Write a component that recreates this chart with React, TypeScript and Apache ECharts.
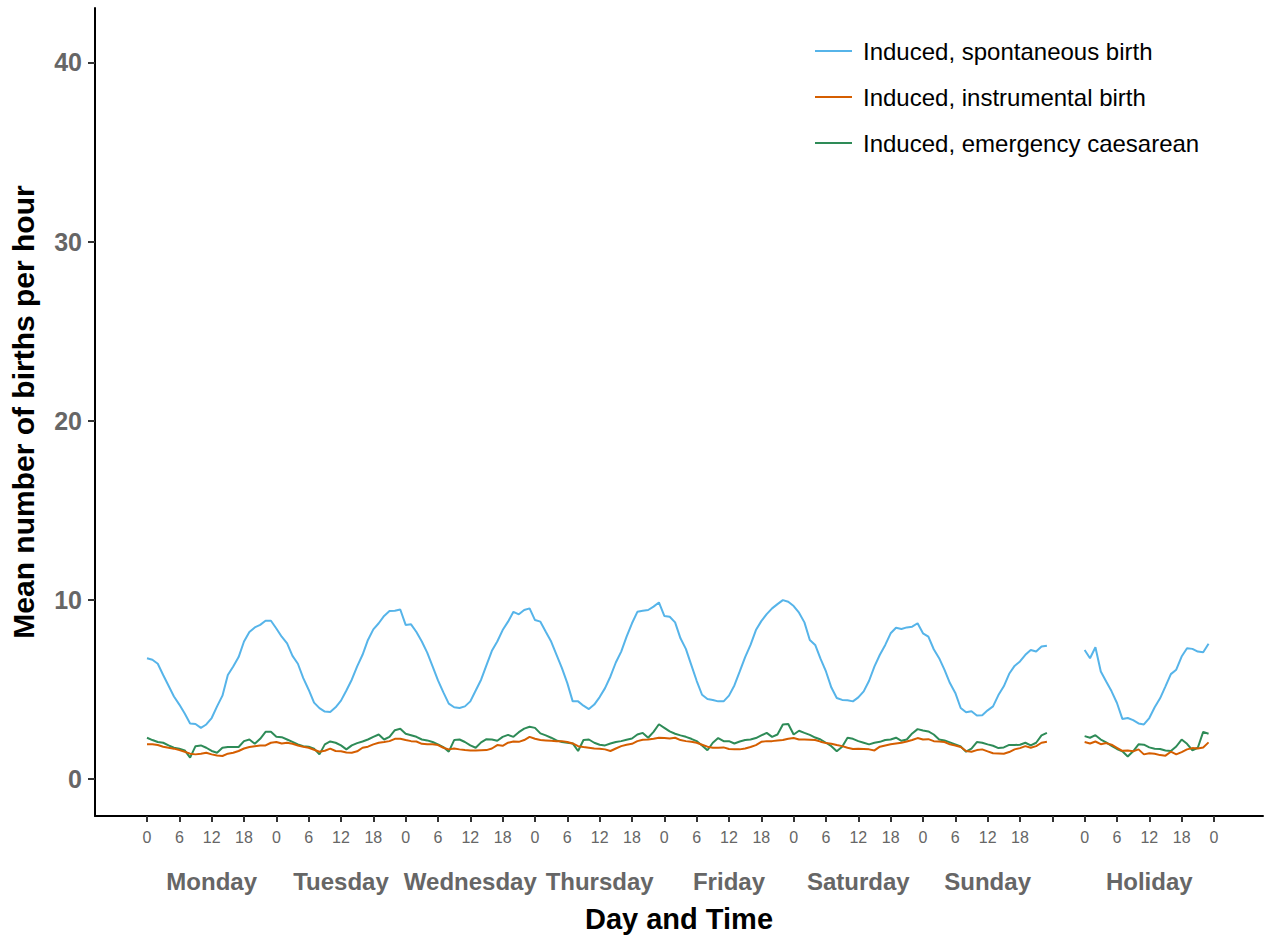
import React, { useEffect, useRef } from "react";
import * as echarts from "echarts";

const SERIES_NAMES = [
  "Induced, spontaneous birth",
  "Induced, instrumental birth",
  "Induced, emergency caesarean",
];
const COLORS = ["#56B4E9", "#D55E00", "#2E8B57"];
const DAY_NAMES = ["Monday", "Tuesday", "Wednesday", "Thursday", "Friday", "Saturday", "Sunday", "Holiday"];
const DAY_CENTERS = [12, 36, 60, 84, 108, 132, 156, 186];
const HOLIDAY_START = 174;
const X_TICKS = [0, 6, 12, 18, 24, 30, 36, 42, 48, 54, 60, 66, 72, 78, 84, 90, 96, 102, 108, 114, 120, 126, 132, 138, 144, 150, 156, 162, 168, 174, 180, 186, 192, 198];
const Y_TICKS = [0, 10, 20, 30, 40];

// Mean births per hour, Monday 0h .. Sunday 23h (168 values)
const spontaneousWeek = [
  6.74, 6.65, 6.43, 5.8, 5.2, 4.6, 4.15, 3.65, 3.1, 3.07, 2.85, 3.04, 3.4, 4.05, 4.65, 5.8, 6.28, 6.8, 7.67, 8.2, 8.46, 8.6, 8.83, 8.83,
  8.4, 7.94, 7.57, 6.87, 6.43, 5.63, 4.98, 4.26, 3.95, 3.76, 3.74, 4.0, 4.37, 4.94, 5.54, 6.28, 6.93, 7.76, 8.35, 8.69, 9.1, 9.37, 9.39, 9.46,
  8.6, 8.63, 8.2, 7.67, 7.05, 6.28, 5.5, 4.83, 4.2, 4.0, 3.96, 4.05, 4.33, 4.94, 5.54, 6.35, 7.15, 7.67, 8.31, 8.78, 9.33, 9.19, 9.43, 9.52,
  8.87, 8.78, 8.22, 7.67, 6.93, 6.19, 5.35, 4.33, 4.33, 4.09, 3.9, 4.15, 4.57, 5.07, 5.72, 6.5, 7.11, 7.94, 8.69, 9.33, 9.39, 9.43, 9.62, 9.85,
  9.1, 9.05, 8.74, 7.85, 7.26, 6.37, 5.48, 4.7, 4.46, 4.41, 4.33, 4.33, 4.65, 5.22, 6.0, 6.8, 7.48, 8.31, 8.81, 9.2, 9.52, 9.76, 9.98, 9.89,
  9.65, 9.28, 8.74, 7.76, 7.48, 6.7, 6.0, 5.1, 4.52, 4.41, 4.39, 4.33, 4.55, 4.89, 5.48, 6.28, 6.93, 7.48, 8.13, 8.44, 8.37, 8.46, 8.5, 8.69,
  8.13, 7.94, 7.24, 6.74, 6.09, 5.35, 4.8, 3.96, 3.72, 3.78, 3.54, 3.56, 3.83, 4.05, 4.68, 5.17, 5.87, 6.31, 6.56, 6.93, 7.2, 7.11, 7.39, 7.44,
];
const instrumentalWeek = [
  1.93, 1.93, 1.89, 1.8, 1.74, 1.69, 1.61, 1.52, 1.41, 1.37, 1.41, 1.46, 1.37, 1.31, 1.28, 1.41, 1.46, 1.56, 1.7, 1.78, 1.83, 1.87, 1.87, 2.02,
  2.06, 1.98, 2.02, 1.96, 1.87, 1.8, 1.74, 1.63, 1.52, 1.57, 1.69, 1.56, 1.54, 1.48, 1.46, 1.54, 1.74, 1.8, 1.93, 2.02, 2.06, 2.11, 2.24, 2.24,
  2.17, 2.11, 2.09, 1.96, 1.93, 1.93, 1.89, 1.74, 1.65, 1.7, 1.65, 1.61, 1.59, 1.59, 1.6, 1.61, 1.7, 1.89, 1.85, 2.02, 2.09, 2.07, 2.17, 2.35,
  2.24, 2.17, 2.15, 2.13, 2.11, 2.11, 2.06, 1.98, 1.83, 1.78, 1.74, 1.7, 1.69, 1.65, 1.56, 1.7, 1.83, 1.91, 1.96, 2.11, 2.19, 2.2, 2.24, 2.3,
  2.28, 2.26, 2.3, 2.17, 2.11, 2.07, 2.02, 1.91, 1.8, 1.74, 1.74, 1.76, 1.67, 1.65, 1.65, 1.7, 1.78, 1.89, 2.07, 2.11, 2.11, 2.15, 2.17, 2.24,
  2.28, 2.2, 2.2, 2.19, 2.17, 2.08, 2.0, 1.96, 1.89, 1.83, 1.74, 1.67, 1.69, 1.67, 1.65, 1.59, 1.8, 1.87, 1.94, 1.98, 2.02, 2.09, 2.17, 2.28,
  2.2, 2.22, 2.11, 2.09, 2.06, 1.93, 1.87, 1.78, 1.56, 1.52, 1.61, 1.65, 1.54, 1.43, 1.42, 1.41, 1.5, 1.65, 1.72, 1.83, 1.74, 1.83, 2.02, 2.07,
];
const caesareanWeek = [
  2.3, 2.17, 2.06, 2.02, 1.87, 1.74, 1.69, 1.59, 1.19, 1.83, 1.87, 1.74, 1.56, 1.46, 1.74, 1.78, 1.78, 1.78, 2.11, 2.2, 1.96, 2.24, 2.63, 2.63,
  2.35, 2.33, 2.2, 2.07, 1.93, 1.83, 1.8, 1.69, 1.37, 1.93, 2.09, 2.02, 1.87, 1.65, 1.87, 2.0, 2.09, 2.2, 2.35, 2.48, 2.2, 2.35, 2.72, 2.8,
  2.52, 2.44, 2.35, 2.2, 2.15, 2.06, 1.93, 1.78, 1.52, 2.17, 2.2, 2.06, 1.87, 1.74, 2.04, 2.22, 2.2, 2.13, 2.35, 2.46, 2.35, 2.61, 2.81, 2.91,
  2.85, 2.54, 2.43, 2.3, 2.15, 2.06, 2.02, 1.98, 1.56, 2.17, 2.2, 2.02, 1.91, 1.87, 1.98, 2.06, 2.11, 2.19, 2.26, 2.48, 2.57, 2.3, 2.63, 3.05,
  2.85, 2.65, 2.52, 2.43, 2.35, 2.24, 2.11, 1.87, 1.6, 2.02, 2.28, 2.11, 2.11, 1.98, 2.09, 2.17, 2.2, 2.28, 2.43, 2.57, 2.35, 2.48, 3.04, 3.07,
  2.48, 2.69, 2.57, 2.46, 2.31, 2.2, 2.02, 1.83, 1.55, 1.8, 2.3, 2.24, 2.11, 2.02, 1.93, 2.02, 2.07, 2.17, 2.2, 2.3, 2.13, 2.2, 2.54, 2.78,
  2.7, 2.65, 2.48, 2.2, 2.15, 2.04, 1.93, 1.81, 1.52, 1.69, 2.06, 2.02, 1.93, 1.85, 1.72, 1.76, 1.9, 1.89, 1.91, 2.02, 1.87, 2.02, 2.43, 2.57,
];
// Holiday 0h .. 23h
const spontaneousHoliday = [
  7.2, 6.74, 7.35, 6.0, 5.44, 4.89, 4.24, 3.35, 3.4, 3.28, 3.1, 3.04, 3.4, 4.0, 4.5, 5.17, 5.85, 6.1, 6.83, 7.3, 7.26, 7.11, 7.07, 7.55,
];
const instrumentalHoliday = [
  2.06, 1.98, 2.09, 1.94, 2.0, 1.91, 1.74, 1.57, 1.59, 1.54, 1.65, 1.37, 1.43, 1.41, 1.33, 1.3, 1.52, 1.37, 1.5, 1.65, 1.72, 1.7, 1.76, 2.04,
];
const caesareanHoliday = [
  2.39, 2.3, 2.44, 2.2, 2.04, 1.85, 1.67, 1.54, 1.25, 1.54, 1.93, 1.91, 1.76, 1.69, 1.67, 1.59, 1.56, 1.81, 2.2, 1.96, 1.6, 1.74, 2.63, 2.52,
];

const FONT = "'Liberation Sans', Arial, sans-serif";

export default function App() {
  const ref = useRef<HTMLDivElement>(null);
  useEffect(() => {
    if (!ref.current) return;
    const chart = echarts.init(ref.current, undefined, { renderer: "svg" });
    const week = [spontaneousWeek, instrumentalWeek, caesareanWeek];
    const holiday = [spontaneousHoliday, instrumentalHoliday, caesareanHoliday];
    const series: any[] = [];
    const addSeries = (arr: number[], k: number, start: number) => {
      series.push({
        name: SERIES_NAMES[k],
        type: "line",
        xAxisIndex: 0,
        symbol: "none",
        lineStyle: { color: COLORS[k], width: 2 },
        itemStyle: { color: COLORS[k] },
        data: arr.map((v, i) => [start + i, v]),
        z: 3 - k,
      });
    };
    week.forEach((arr, k) => addSeries(arr, k, 0));
    holiday.forEach((arr, k) => addSeries(arr, k, HOLIDAY_START));
    const xMin = -9.65;
    const xMax = 207.1;
    chart.setOption({
      animation: false,
      backgroundColor: "#ffffff",
      textStyle: { fontFamily: FONT },
      grid: { left: 95, right: 6, top: 8, bottom: 115, containLabel: false },
      legend: {
        data: SERIES_NAMES,
        orient: "vertical",
        left: 815,
        top: 39,
        padding: 0,
        itemWidth: 37,
        itemHeight: 14,
        itemGap: 22,
        icon: "path://M0,6 L37,6 L37,8 L0,8 Z",
        textStyle: { fontFamily: FONT, fontSize: 24, color: "#000", padding: [0, 0, 0, 6] },
      },
      xAxis: [
        {
          type: "value",
          min: xMin,
          max: xMax,
          axisLine: { show: true, onZero: false, lineStyle: { color: "#000", width: 2 } },
          axisTick: { show: true, length: 6, customValues: X_TICKS, lineStyle: { color: "#333", width: 2 } },
          axisLabel: {
            customValues: X_TICKS,
            margin: 13,
            fontSize: 16,
            color: "#666",
            fontFamily: FONT,
            formatter: (v: number) => {
              if (v === 168) return "";
              const base = v >= HOLIDAY_START ? HOLIDAY_START : 0;
              return String((v - base) % 24);
            },
          },
          splitLine: { show: false },
          name: "Day and Time",
          nameLocation: "middle",
          nameGap: 88,
          nameTextStyle: { fontSize: 29, fontWeight: "bold", color: "#000", fontFamily: FONT },
        },
        {
          type: "value",
          min: xMin,
          max: xMax,
          position: "bottom",
          axisLine: { show: false },
          axisTick: { show: false },
          axisLabel: {
            customValues: DAY_CENTERS,
            margin: 53,
            fontSize: 24,
            fontWeight: "bold",
            color: "#666",
            fontFamily: FONT,
            formatter: (v: number) => DAY_NAMES[DAY_CENTERS.indexOf(v)] ?? "",
          },
          splitLine: { show: false },
        },
      ],
      yAxis: {
        type: "value",
        min: -2.07,
        max: 43.04,
        axisLine: { show: true, onZero: false, lineStyle: { color: "#000", width: 2 } },
        axisTick: { show: true, length: 7, customValues: Y_TICKS, lineStyle: { color: "#333", width: 2 } },
        axisLabel: {
          customValues: Y_TICKS,
          margin: 13,
          fontSize: 25,
          fontWeight: "bold",
          color: "#666",
          fontFamily: FONT,
        },
        splitLine: { show: false },
        name: "Mean number of births per hour",
        nameLocation: "middle",
        nameGap: 57,
        nameTextStyle: { fontSize: 30, fontWeight: "bold", color: "#000", fontFamily: FONT },
      },
      series,
    });
    return () => chart.dispose();
  }, []);
  return (
    <div
      ref={ref}
      style={{ position: "absolute", left: 0, top: 0, width: 1269, height: 938, background: "#fff" }}
    />
  );
}
